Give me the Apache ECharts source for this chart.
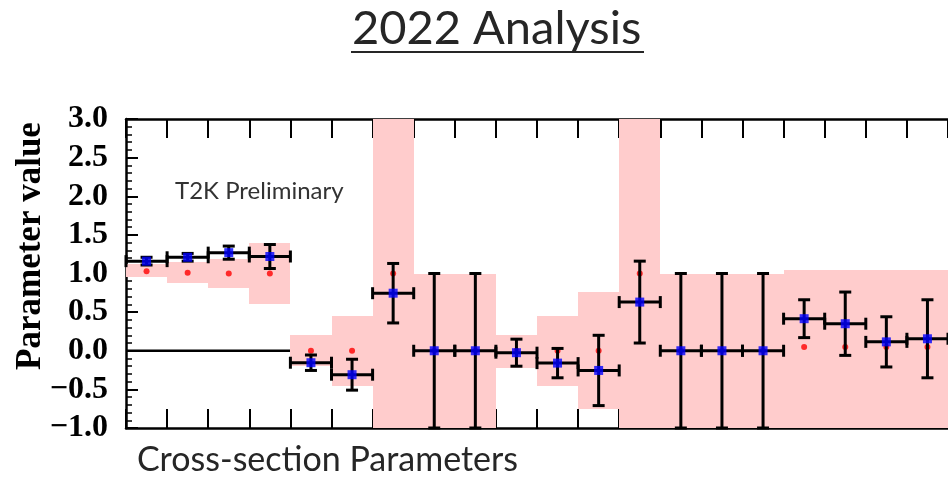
<!DOCTYPE html>
<html>
<head>
<meta charset="utf-8">
<script src="https://cdn.jsdelivr.net/npm/echarts@6/dist/echarts.min.js"></script>
<style>
html,body{margin:0;padding:0;background:#fff;}
#chart{width:948px;height:478px;}
</style>
</head>
<body>
<div id="chart"></div>
<script>
// Parameter bins (index of each cross-section parameter)
const paramIndex = [0, 1, 2, 3, 4, 5, 6, 7, 8, 9, 10, 11, 12, 13, 14, 15, 16, 17, 18, 19];
// Prior central values (red dots) and prior widths above / below (pink bands)
const priorValue = [1.03, 1.01, 1.0, 1.0, 0.0, 0.0, 1.0, 0.0, 0.0, 0.0, 0.0, 0.0, 1.0, 0.0, 0.0, 0.0, 0.05, 0.05, 0.05, 0.05];
const priorErrUp = [0.09, 0.135, 0.185, 0.40, 0.20, 0.45, 3.0, 1.0, 1.0, 0.20, 0.45, 0.755, 3.0, 1.0, 1.0, 1.0, 1.0, 1.0, 1.0, 1.0];
const priorErrDown = [0.08, 0.135, 0.185, 0.40, 0.20, 0.46, 3.0, 1.0, 1.0, 0.22, 0.46, 0.76, 3.0, 1.0, 1.0, 1.0, 1.1, 1.1, 1.1, 1.1];
// Post-fit values (blue squares) and their errors
const postValue = [1.16, 1.21, 1.27, 1.22, -0.155, -0.31, 0.745, 0.0, 0.0, -0.025, -0.16, -0.255, 0.63, 0.0, 0.0, 0.0, 0.415, 0.35, 0.115, 0.155];
const postError = [0.05, 0.05, 0.085, 0.155, 0.10, 0.20, 0.385, 1.0, 1.0, 0.175, 0.19, 0.455, 0.53, 1.0, 1.0, 1.0, 0.245, 0.41, 0.325, 0.505];
// Y axis ticks
const yTicks = [-1.0, -0.5, 0.0, 0.5, 1.0, 1.5, 2.0, 2.5, 3.0];

const chart = echarts.init(document.getElementById('chart'), null, {renderer: 'canvas'});

const bandData = paramIndex.map((p, i) => [p, priorValue[i] + priorErrUp[i], priorValue[i] - priorErrDown[i]]);
const errData = paramIndex.map((p, i) => [p, postValue[i], postError[i]]);
const priorPts = paramIndex.map((p, i) => [p + 0.5, priorValue[i]]);
const postPts = paramIndex.map((p, i) => [p + 0.5, postValue[i]]);

const CAP = 6;
const LW = 3;

function renderBand(params, api) {
  const i = api.value(0), hi = api.value(1), lo = api.value(2);
  const p1 = api.coord([i, hi]);
  const p2 = api.coord([i + 1, lo]);
  const cs = params.coordSys;
  const r = echarts.graphic.clipRectByRect(
    {x: p1[0], y: p1[1], width: p2[0] - p1[0], height: p2[1] - p1[1]},
    {x: cs.x, y: cs.y, width: cs.width, height: cs.height}
  );
  if (!r) return;
  const x1 = Math.round(r.x), y1 = Math.round(r.y);
  const x2 = Math.round(r.x + r.width), y2 = Math.round(r.y + r.height);
  return {type: 'rect', shape: {x: x1, y: y1, width: x2 - x1, height: y2 - y1}, style: {fill: '#ffcccc'}};
}

function renderErr(params, api) {
  const i = api.value(0), v = api.value(1), e = api.value(2);
  const cs = params.coordSys;
  const top = api.coord([i + 0.5, v + e]);
  const bot = api.coord([i + 0.5, v - e]);
  const left = api.coord([i, v]);
  const right = api.coord([i + 1, v]);
  const yTop = Math.max(top[1], cs.y);
  const yBot = Math.min(bot[1], cs.y + cs.height);
  const st = {stroke: '#000', lineWidth: LW};
  const children = [
    {type: 'line', shape: {x1: top[0], y1: yTop, x2: bot[0], y2: yBot}, style: st},
    {type: 'line', shape: {x1: top[0] - CAP, y1: yTop, x2: top[0] + CAP, y2: yTop}, style: st},
    {type: 'line', shape: {x1: bot[0] - CAP, y1: yBot, x2: bot[0] + CAP, y2: yBot}, style: st},
    {type: 'line', shape: {x1: left[0], y1: left[1], x2: right[0], y2: right[1]}, style: st},
    {type: 'line', shape: {x1: left[0], y1: left[1] - CAP, x2: left[0], y2: left[1] + CAP}, style: st},
    {type: 'line', shape: {x1: right[0], y1: right[1] - CAP, x2: right[0], y2: right[1] + CAP}, style: st}
  ];
  return {type: 'group', children: children};
}

const xAxisCommon = {
  type: 'value', min: 0, max: paramIndex.length, interval: 1,
  axisLine: {show: true, onZero: false, lineStyle: {color: '#000', width: 2.5}},
  axisTick: {show: true, inside: true, length: 19, lineStyle: {color: '#000', width: 2}},
  axisLabel: {show: false},
  splitLine: {show: false}
};

const option = {
  animation: false,
  backgroundColor: '#fff',
  grid: {left: 126, top: 119, width: 826, height: 309, containLabel: false},
  xAxis: [
    Object.assign({position: 'bottom'}, xAxisCommon),
    Object.assign({position: 'top'}, xAxisCommon)
  ],
  yAxis: {
    type: 'value', min: yTicks[0], max: yTicks[yTicks.length - 1], interval: 0.5,
    axisLine: {show: true, onZero: false, lineStyle: {color: '#000', width: 2.5}},
    axisTick: {show: true, inside: true, length: 12, lineStyle: {color: '#000', width: 2}},
    minorTick: {show: true, splitNumber: 5, length: 6, lineStyle: {color: '#000', width: 1.5}},
    splitLine: {show: false},
    axisLabel: {
      margin: 18, color: '#000', fontFamily: 'Liberation Serif', fontWeight: 'bold', fontSize: 32,
      formatter: v => (v < 0 ? '\u2212' : '') + Math.abs(v).toFixed(1)
    }
  },
  graphic: [
    {type: 'text', x: 352, y: 29, style: {text: '2022 Analysis', font: '47px Lato', fill: '#262626', align: 'left', verticalAlign: 'middle'}},
    {type: 'line', shape: {x1: 351, y1: 52, x2: 644, y2: 52}, style: {stroke: '#262626', lineWidth: 2}},
    {type: 'text', x: 175, y: 191, z: 100, style: {text: 'T2K Preliminary', font: '24px Lato', fill: '#333', align: 'left', verticalAlign: 'middle'}},
    {type: 'text', x: 137, y: 460, style: {text: 'Cross-section Parameters', font: '34px Lato', fill: '#262626', align: 'left', verticalAlign: 'middle'}},
    {type: 'text', x: 30.5, y: 246, rotation: Math.PI / 2, style: {text: 'Parameter value', font: 'bold 35px "Liberation Serif"', fill: '#000', align: 'center', verticalAlign: 'middle'}}
  ],
  series: [
    {
      type: 'line', data: [[0, 0], [paramIndex.length, 0]], symbol: 'none', silent: true, z: 1,
      lineStyle: {color: '#000', width: 2.5}
    },
    {type: 'custom', renderItem: renderBand, data: bandData, z: 2, silent: true},
    {
      type: 'scatter', data: priorPts, symbol: 'circle', symbolSize: 6, z: 3,
      itemStyle: {color: '#ff0000'}
    },
    {type: 'custom', renderItem: renderErr, data: errData, z: 4, silent: true},
    {
      type: 'scatter', data: postPts, symbol: 'rect', symbolSize: 9, z: 5,
      itemStyle: {color: '#0000ff'}
    }
  ]
};
chart.setOption(option);
</script>
</body>
</html>
